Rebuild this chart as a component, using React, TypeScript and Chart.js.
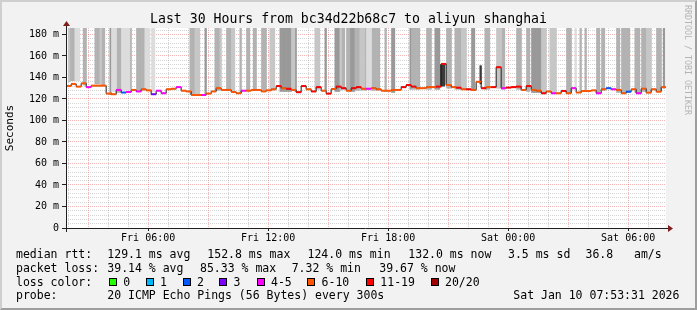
import React, { useEffect, useRef } from 'react';
import { Chart, registerables } from 'chart.js';

Chart.register(...registerables);

// ---------------- data ----------------
const TITLE = 'Last 30 Hours from bc34d22b68c7 to aliyun shanghai';
const Y_TITLE = 'Seconds';
const WATERMARK = 'RRDTOOL / TOBI OETIKER';

// time axis in hours since Fri 00:00
const X_MIN_H = 1 + 53 / 60 + 31 / 3600; // Fri 01:53:31
const X_MAX_H = X_MIN_H + 30; // Sat 07:53:31
const Y_MAX_MS = 186;
const Y_MAJOR_MS = 20;
const Y_MINOR_MS = 4;

const xTickHours = [6, 12, 18, 24, 30];
const xTickLabels = ['Fri 06:00', 'Fri 12:00', 'Fri 18:00', 'Sat 00:00', 'Sat 06:00'];

// median RTT (ms), 15-minute buckets starting Fri 01:54
const medianStartH = 1.9;
const medianStepH = 0.25;
const medianMs = [
  132, 134, 131.5, 134.5, 131, 132.4, 132.4, 132.4, 125, 124.4,
  128.4, 126, 126.5, 128.4, 127, 129, 128, 124.4, 127.7, 125.3,
  129, 129.5, 131, 127.7, 127, 123.7, 123.7, 123.7, 125, 127,
  130, 128.4, 128.4, 126.5, 125.3, 127.7, 127.7, 128.4, 128.4, 127,
  128, 129, 132, 130, 129.5, 128.4, 126.3, 132, 129, 127,
  131, 127.7, 125, 129.3, 131.5, 130, 127.7, 130, 131, 129.5,
  129.5, 130, 129, 127.7, 127.7, 128.4, 128.4, 131, 133, 131.5,
  130, 130, 131, 131, 131.5, 152.6, 133, 131, 130.5, 129,
  129, 128.4, 136, 130, 131, 131, 149.5, 130, 130.6, 131,
  131.5, 128.4, 132, 128.4, 127.7, 125.3, 127, 125.3, 125.3, 127.5,
  125.3, 130, 126, 127.4, 127.4, 128, 125.3, 129, 130, 129,
  128.4, 125.3, 126.8, 129, 125.3, 129.6, 125.9, 129, 126.8, 131,
];
// loss class of each bucket (index into lossLabels)
const medianLoss = [
  5, 5, 5, 5, 4, 5, 5, 5, 5, 5,
  4, 2, 4, 5, 4, 5, 5, 3, 4, 4,
  5, 5, 4, 5, 5, 5, 5, 4, 5, 5,
  5, 5, 5, 5, 5, 4, 5, 5, 5, 5,
  5, 5, 6, 5, 6, 5, 6, 6, 5, 6,
  6, 5, 6, 5, 6, 6, 5, 6, 6, 5,
  4, 5, 5, 5, 5, 5, 5, 6, 6, 6,
  5, 5, 5, 5, 6, 6, 5, 5, 6, 5,
  6, 5, 5, 6, 5, 6, 6, 4, 6, 6,
  6, 5, 6, 5, 5, 6, 5, 4, 5, 6,
  5, 4, 5, 5, 5, 5, 4, 5, 2, 4,
  5, 5, 2, 5, 4, 5, 5, 5, 5, 5,
];

const lossLabels = ['0', '1', '2', '3', '4-5', '6-10', '11-19', '20/20'];
const lossColors = ['#26ff00', '#00b8ff', '#0059ff', '#7e00ff', '#ff00ff', '#ff5500', '#ff0000', '#a10000'];

// smoke runs (ping spread), hours since Fri 00:00
const smokeFromH = [
  2.00, 2.10, 2.30, 2.75, 3.30, 3.55, 3.70, 4.10, 4.20, 4.40,
  4.65, 5.05, 5.45, 5.80, 6.15, 8.05, 8.35, 8.80, 9.35, 9.55,
  9.95, 10.20, 10.55, 10.95, 11.25, 11.70, 12.10, 12.60, 13.15, 13.30,
  14.35, 14.80, 15.30, 15.55, 15.65, 15.90, 16.10, 16.30, 16.55, 16.80,
  16.95, 17.20, 17.80, 18.20, 19.05, 19.20, 19.95, 20.35, 20.60, 20.95,
  21.30, 21.65, 22.20, 22.55, 22.85, 23.45, 23.65, 24.40, 24.90, 25.20,
  25.65, 26.10, 26.95, 27.30, 27.60, 27.85, 28.45, 28.70, 29.40, 29.70,
  30.35, 30.70, 30.95, 31.40, 31.75,
];
const smokeToH = [
  2.10, 2.30, 2.55, 2.95, 3.55, 3.65, 3.80, 4.20, 4.40, 4.65,
  5.05, 5.20, 5.80, 6.05, 6.35, 8.35, 8.60, 8.88, 9.55, 9.65,
  10.20, 10.35, 10.70, 11.10, 11.45, 11.90, 12.30, 13.15, 13.30, 13.45,
  14.55, 14.95, 15.55, 15.65, 15.80, 16.10, 16.30, 16.55, 16.80, 16.95,
  17.15, 17.55, 17.95, 18.35, 19.15, 19.60, 20.20, 20.60, 20.85, 21.15,
  21.65, 21.90, 22.30, 22.65, 23.05, 23.65, 23.80, 24.70, 25.05, 25.65,
  25.90, 26.45, 27.15, 27.45, 27.70, 27.95, 28.60, 28.85, 29.55, 30.05,
  30.55, 30.95, 31.15, 31.70, 31.85,
];
const smokeLowMs = [
  136, 137, 137, 133, 134, 134, 133, 124, 127, 126,
  128, 129, 128, 129, 127, 124, 124, 124, 128, 128,
  128, 127, 126, 128, 128, 128, 128, 127, 128, 127,
  129, 128, 127, 128, 129, 128, 127, 128, 128, 128,
  129, 128, 127, 126, 129, 129, 129, 129, 132, 130,
  129, 129, 128, 134, 129, 130, 129, 129, 127, 126,
  125, 126, 126, 129, 126, 127, 126, 128, 126, 126,
  126, 127, 127, 128, 130,
];
const smokeHighMs = [
  200, 200, 200, 200, 200, 200, 200, 200, 200, 200,
  200, 200, 200, 200, 200, 200, 200, 200, 200, 200,
  200, 200, 200, 200, 200, 200, 200, 200, 200, 200,
  200, 200, 200, 200, 200, 200, 200, 200, 200, 200,
  200, 200, 200, 200, 200, 200, 200, 200, 152, 200,
  200, 200, 200, 151, 200, 200, 200, 200, 200, 200,
  200, 200, 200, 200, 200, 200, 200, 200, 200, 200,
  200, 200, 200, 200, 200,
];
// density of the smoke (1 = sparse ... 5 = dense)
const smokeDensity = [
  2, 3, 1, 3, 3, 2, 3, 4, 1, 3,
  1, 3, 3, 1, 1, 3, 2, 4, 3, 2,
  3, 2, 3, 3, 3, 3, 2, 4, 2, 4,
  2, 4, 4, 2, 3, 3, 4, 3, 2, 3,
  1, 3, 3, 4, 4, 3, 3, 4, 5, 3,
  3, 2, 4, 5, 3, 2, 3, 3, 3, 4,
  2, 2, 3, 1, 3, 3, 3, 3, 3, 3,
  3, 3, 2, 3, 4,
];

// legend texts
const rttLegend = ['129.1 ms avg', '152.8 ms max', '124.0 ms min', '132.0 ms now', '3.5 ms sd', '36.8   am/s'];
const lossLegend = ['39.14 % avg', '85.33 % max', '7.32 % min', '39.67 % now'];
const probeText = '20 ICMP Echo Pings (56 Bytes) every 300s';
const dateText = 'Sat Jan 10 07:53:31 2026';

// ---------------- styling / layout ----------------
const MONO = "'DejaVu Sans Mono', monospace";
const smokeShades = ['#dcdcdc', '#c6c6c6', '#b2b2b2', '#999999', '#3a3a3a'];
const MAJOR_GRID = 'rgba(222,79,79,0.42)';
const MINOR_GRID = 'rgba(143,143,143,0.38)';
const AXIS = '#1f1f1f';
const ARROW = '#801f1f';

const rttLegendX = [107.3, 207.3, 307.5, 408.3, 508, 585.5];
const lossLegendX = [107.3, 200, 291.7, 379.3];
const lossBoxX = [109, 145.7, 182.7, 219.3, 256.7, 307.3, 366, 430.7];
const rowTop = [247, 261, 274.5, 288];

const framePlugin = {
  id: 'rrdFrame',
  beforeDraw(chart: any) {
    const { ctx, chartArea } = chart;
    ctx.save();
    ctx.fillStyle = '#ffffff';
    ctx.fillRect(chartArea.left, chartArea.top, chartArea.right - chartArea.left, chartArea.bottom - chartArea.top);
    ctx.restore();
  },
  afterDraw(chart: any) {
    const { ctx, chartArea } = chart;
    const { left, right, top, bottom } = chartArea;
    ctx.save();
    ctx.strokeStyle = AXIS;
    ctx.lineWidth = 1;
    ctx.beginPath();
    ctx.moveTo(left - 4, bottom + 0.5);
    ctx.lineTo(right + 3, bottom + 0.5);
    ctx.moveTo(left + 0.5, bottom + 4);
    ctx.lineTo(left + 0.5, top - 3);
    ctx.stroke();
    ctx.fillStyle = ARROW;
    ctx.beginPath();
    ctx.moveTo(right + 2, bottom + 0.5 - 3.5);
    ctx.lineTo(right + 2, bottom + 0.5 + 3.5);
    ctx.lineTo(right + 7, bottom + 0.5);
    ctx.closePath();
    ctx.fill();
    ctx.beginPath();
    ctx.moveTo(left + 0.5 - 3.5, top - 2);
    ctx.lineTo(left + 0.5 + 3.5, top - 2);
    ctx.lineTo(left + 0.5, top - 7);
    ctx.closePath();
    ctx.fill();
    ctx.restore();
  },
};

function buildSmokeDatasets() {
  return smokeShades.map((shade, li) => {
    const data: any[] = [];
    for (let r = 0; r < smokeFromH.length; r++) {
      if (smokeDensity[r] !== li + 1) continue;
      const k0 = Math.round(smokeFromH[r] * 12);
      let k1 = Math.round(smokeToH[r] * 12);
      if (k1 <= k0) k1 = k0 + 1;
      for (let k = k0; k < k1; k++) {
        data.push({ x: (k + 0.5) / 12, y: [smokeLowMs[r], smokeHighMs[r]] });
      }
    }
    return {
      type: 'bar',
      label: 'smoke ' + (li + 1),
      data,
      backgroundColor: shade,
      borderWidth: 0,
      barPercentage: 1,
      categoryPercentage: 1,
      grouped: false,
      order: 10,
      clip: 0,
    };
  });
}

export default function App() {
  const ref = useRef<HTMLCanvasElement | null>(null);

  useEffect(() => {
    document.body.style.margin = '0';
    if (!ref.current) return;
    Chart.defaults.font.family = MONO;

    const medianStep = medianMs.map((m, i) => ({ x: medianStartH + i * medianStepH, y: m }));
    medianStep.push({ x: medianStartH + medianMs.length * medianStepH, y: medianMs[medianMs.length - 1] });

    const medianColored: any[] = [];
    medianMs.forEach((m, i) => {
      const t0 = medianStartH + i * medianStepH;
      medianColored.push({ x: t0, y: m }, { x: t0 + medianStepH, y: m }, { x: t0 + medianStepH, y: null });
    });

    const chart = new Chart(ref.current, {
      type: 'line',
      data: {
        datasets: [
          ...(buildSmokeDatasets() as any[]),
          {
            type: 'line',
            label: 'median',
            data: medianStep,
            stepped: true,
            borderColor: '#1a1a1a',
            borderWidth: 1,
            pointRadius: 0,
            order: 2,
          },
          {
            type: 'line',
            label: 'median loss',
            data: medianColored,
            borderColor: lossColors[5],
            borderWidth: 2,
            pointRadius: 0,
            spanGaps: false,
            order: 1,
            segment: {
              borderColor: (ctx: any) => lossColors[medianLoss[Math.floor(ctx.p0DataIndex / 3)]],
            },
          },
        ] as any,
      },
      options: {
        responsive: false,
        animation: false,
        devicePixelRatio: 1,
        events: [],
        layout: { padding: { left: 0, right: 31, top: 28, bottom: 60 } },
        plugins: {
          legend: { display: false },
          tooltip: { enabled: false },
          title: { display: false },
        },
        scales: {
          x: {
            type: 'linear',
            min: X_MIN_H,
            max: X_MAX_H,
            offset: false,
            afterBuildTicks: (s: any) => {
              const t: any[] = [];
              for (let h = Math.ceil(X_MIN_H); h <= Math.floor(X_MAX_H); h++) t.push({ value: h });
              s.ticks = t;
            },
            afterFit: (s: any) => {
              s.height = 22;
            },
            ticks: {
              autoSkip: false,
              maxRotation: 0,
              minRotation: 0,
              padding: 1,
              color: '#000',
              font: { size: 10, family: MONO },
              callback: (v: any) => {
                const i = xTickHours.indexOf(Number(v));
                return i >= 0 ? xTickLabels[i] : '';
              },
            },
            grid: {
              offset: false,
              lineWidth: 1,
              tickLength: 3,
              color: (c: any) => (c.tick && c.tick.value % 3 === 0 ? MAJOR_GRID : MINOR_GRID),
              tickColor: (c: any) => (c.tick && xTickHours.indexOf(c.tick.value) >= 0 ? AXIS : 'rgba(0,0,0,0)'),
            },
            border: { display: false, dash: [1, 1] },
          },
          y: {
            type: 'linear',
            min: 0,
            max: Y_MAX_MS,
            afterBuildTicks: (s: any) => {
              const t: any[] = [];
              for (let v = 0; v < Y_MAX_MS; v += Y_MINOR_MS) t.push({ value: v });
              s.ticks = t;
            },
            afterFit: (s: any) => {
              s.width = 66;
            },
            ticks: {
              autoSkip: false,
              padding: 3,
              color: '#000',
              font: { size: 10, family: MONO },
              callback: (v: any) => {
                const n = Number(v);
                if (n % Y_MAJOR_MS !== 0) return '';
                return n === 0 ? '0' : n + ' m';
              },
            },
            grid: {
              lineWidth: 1,
              tickLength: 4,
              color: (c: any) => {
                if (!c.tick) return MINOR_GRID;
                if (c.tick.value === 0) return 'rgba(0,0,0,0)';
                return c.tick.value % Y_MAJOR_MS === 0 ? MAJOR_GRID : MINOR_GRID;
              },
              tickColor: (c: any) => (c.tick && c.tick.value % Y_MAJOR_MS === 0 ? AXIS : 'rgba(0,0,0,0)'),
            },
            border: { display: false, dash: [1, 1] },
            title: {
              display: true,
              text: Y_TITLE,
              color: '#000',
              font: { size: 11, family: MONO },
              padding: { top: 3.4, bottom: 0 },
            },
          },
        },
      } as any,
      plugins: [framePlugin],
    });
    return () => chart.destroy();
  }, []);

  const txt: React.CSSProperties = {
    position: 'absolute',
    whiteSpace: 'pre',
    fontFamily: MONO,
    fontSize: '11.5px',
    lineHeight: '14px',
    color: '#000',
  };

  return (
    <div style={{ position: 'relative', width: 697, height: 310, background: '#f2f2f2', overflow: 'hidden' }}>
      <canvas ref={ref} width={697} height={310} style={{ position: 'absolute', left: 0, top: 0 }} />
      <div
        style={{
          position: 'absolute',
          left: 0,
          top: 10.5,
          width: 697,
          textAlign: 'center',
          fontFamily: MONO,
          fontSize: '13.2px',
          lineHeight: '16px',
          whiteSpace: 'pre',
          color: '#000',
        }}
      >
        {TITLE}
      </div>
      <div
        style={{
          position: 'absolute',
          left: 683,
          top: 5,
          writingMode: 'vertical-rl',
          fontFamily: MONO,
          fontSize: '8.3px',
          lineHeight: '10px',
          whiteSpace: 'pre',
          color: '#b4b4b4',
        }}
      >
        {WATERMARK}
      </div>

      <div style={{ ...txt, left: 16, top: rowTop[0] }}>median rtt:</div>
      {rttLegend.map((s, i) => (
        <div key={'r' + i} style={{ ...txt, left: rttLegendX[i], top: rowTop[0] }}>{s}</div>
      ))}

      <div style={{ ...txt, left: 16, top: rowTop[1] }}>packet loss:</div>
      {lossLegend.map((s, i) => (
        <div key={'l' + i} style={{ ...txt, left: lossLegendX[i], top: rowTop[1] }}>{s}</div>
      ))}

      <div style={{ ...txt, left: 16, top: rowTop[2] }}>loss color:</div>
      {lossLabels.map((s, i) => (
        <React.Fragment key={'c' + i}>
          <div
            style={{
              position: 'absolute',
              left: lossBoxX[i],
              top: 277.5,
              width: 8,
              height: 8,
              boxSizing: 'border-box',
              border: '1px solid #000',
              background: lossColors[i],
            }}
          />
          <div style={{ ...txt, left: lossBoxX[i] + 14.3, top: rowTop[2] }}>{s}</div>
        </React.Fragment>
      ))}

      <div style={{ ...txt, left: 16, top: rowTop[3] }}>probe:</div>
      <div style={{ ...txt, left: 107.3, top: rowTop[3] }}>{probeText}</div>
      <div style={{ ...txt, left: 513.3, top: rowTop[3] }}>{dateText}</div>

      <div
        style={{
          position: 'absolute',
          left: 0,
          top: 0,
          width: 697,
          height: 310,
          boxSizing: 'border-box',
          borderTop: '2px solid #cfcfcf',
          borderLeft: '2px solid #cfcfcf',
          borderRight: '2px solid #9e9e9e',
          borderBottom: '2px solid #9e9e9e',
          pointerEvents: 'none',
        }}
      />
    </div>
  );
}
